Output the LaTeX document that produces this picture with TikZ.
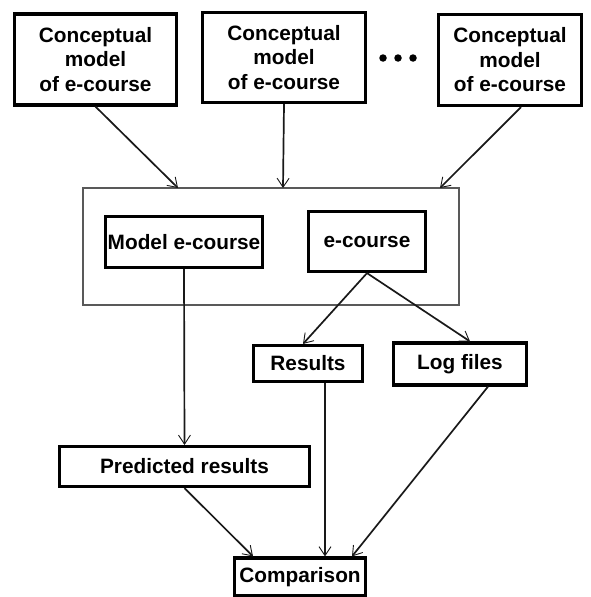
\documentclass[tikz,border=0pt]{standalone}
\usepackage{fontspec}
\setmainfont{Liberation Sans}
\usetikzlibrary{arrows.meta,calc}
\tikzset{
  boldbox/.style={draw=black, line width=3.2pt, rectangle, inner sep=0pt, align=center,
    font=\fontsize{20.8pt}{24.5pt}\selectfont\bfseries},
  framebox/.style={draw=black!65, line width=1.3pt, rectangle, inner sep=0pt},
  conn/.style={draw=black!90, line width=1.7pt,
    -{Straight Barb[length=9pt,width=12pt,line width=0.9pt]}},
  dotmark/.style={circle, fill=black, inner sep=0pt, minimum size=7.5pt}
}
\begin{document}
\begin{tikzpicture}[x=1pt,y=-1pt]
\useasboundingbox (0,0) rectangle (590,597);
% top concept boxes
\node[boldbox, minimum width=162pt, minimum height=91pt] (c1) at (95.5,59.5) {Conceptual\\model\\of e-course};
\node[boldbox, minimum width=163pt, minimum height=90pt] (c2) at (284,57.5) {Conceptual\\model\\of e-course};
\node[boldbox, minimum width=143pt, minimum height=91pt] (c3) at (510,60) {Conceptual\\model\\of e-course};
\node[dotmark] (d1) at (383,58) {};
\node[dotmark] (d2) at (398,58) {};
\node[dotmark] (d3) at (413,58) {};
% frame
\node[framebox, minimum width=376pt, minimum height=117pt] (frame) at (271,246.5) {};
\node[boldbox, minimum width=157pt, minimum height=51pt] (model) at (184,242) {Model e-course};
\node[boldbox, minimum width=117pt, minimum height=60pt] (ec) at (367,241.5) {e-course};
% lower boxes
\node[boldbox, minimum width=109pt, minimum height=36pt] (res) at (308,363.5) {Results};
\node[boldbox, minimum width=133pt, minimum height=42pt] (log) at (460,364) {Log files};
\node[boldbox, minimum width=250pt, minimum height=40pt] (pred) at (184.5,466.5) {Predicted results};
\node[boldbox, minimum width=131pt, minimum height=38pt] (cmp) at (300,577) {Comparison};
% target coordinates on frame top
\coordinate (t1) at (178,188);
\coordinate (t2) at (283,188);
\coordinate (t3) at (440,188);
% connectors
\draw[conn] (c1.south) -- (t1);
\draw[conn] (c2.south) -- (t2);
\draw[conn] ($(c3.south)+(11,0)$) -- (t3);
\draw[conn] (model.south) -- (pred.north);
\draw[conn] (ec.south) -- ($(res.north)+(-5,0)$);
\draw[conn] (ec.south) -- ($(log.north)+(10,0)$);
\draw[conn] (pred.south) -- ($(cmp.north)+(-47,0)$);
\draw[conn] ($(res.south)+(17,0)$) -- ($(cmp.north)+(25,0)$);
\draw[conn] ($(log.south)+(28,0)$) -- ($(cmp.north)+(52,0)$);
\end{tikzpicture}
\end{document}
